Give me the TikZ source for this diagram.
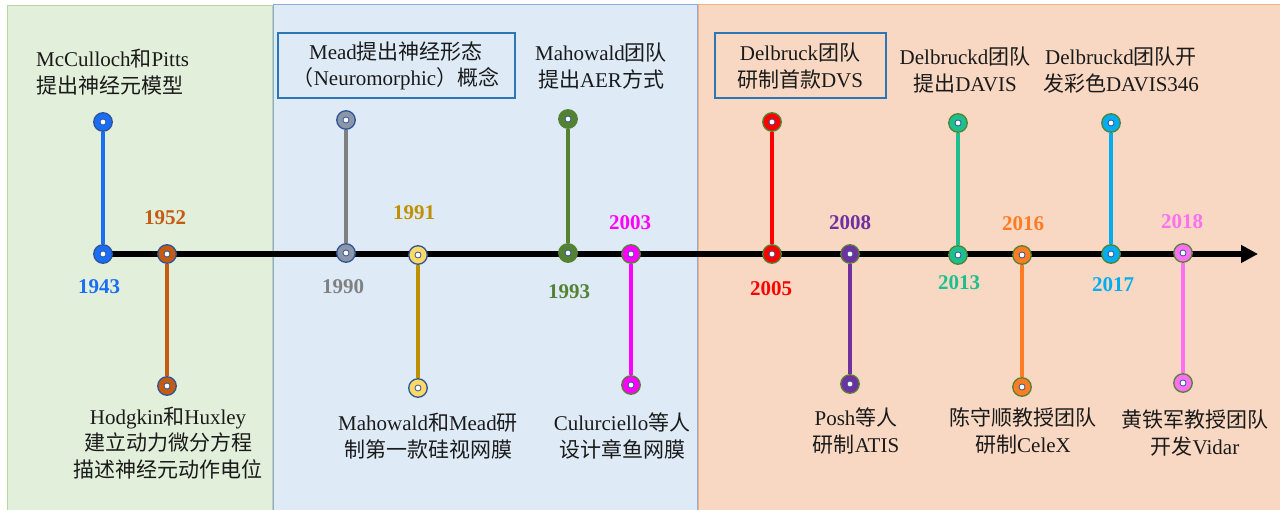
\documentclass[tikz,border=0pt]{standalone}
\usepackage{fontspec}
\setmainfont{Liberation Serif}
\newfontfamily\zhf{Noto Sans CJK SC}
\newcommand\zh[1]{{\zhf #1}}
\usetikzlibrary{arrows.meta}
\definecolor{txtc}{HTML}{1A1A1A}
\definecolor{pgreen}{HTML}{E2EFDA}
\definecolor{pgreenb}{HTML}{B5D6A0}
\definecolor{pblue}{HTML}{DEEBF7}
\definecolor{pblueb}{HTML}{8FAADC}
\definecolor{porange}{HTML}{F8D8C2}
\definecolor{porangeb}{HTML}{F4B183}
\definecolor{boxc}{HTML}{2E75B6}
\definecolor{bordb}{HTML}{2F5597}
\definecolor{bordg}{HTML}{548235}
\definecolor{dotin}{HTML}{2F5597}
\definecolor{c1943}{HTML}{1A6EF5}
\definecolor{c1952}{HTML}{C55A11}
\definecolor{c1990}{HTML}{808080}
\definecolor{d1990}{HTML}{8C96A8}
\definecolor{c1991}{HTML}{BF9000}
\definecolor{d1991}{HTML}{FFD966}
\definecolor{c1993}{HTML}{548235}
\definecolor{c2003}{HTML}{FF00FF}
\definecolor{c2005}{HTML}{FF0000}
\definecolor{c2008}{HTML}{7030A0}
\definecolor{c2013}{HTML}{1DBF8E}
\definecolor{c2016}{HTML}{FF7C24}
\definecolor{c2017}{HTML}{00AEEF}
\definecolor{c2018}{HTML}{FF70F0}
\tikzset{
  dotn/.style 2 args={circle, inner sep=0pt, minimum size=18.5pt, fill=#1, draw=#2, line width=1.3pt,
    path picture={\draw[fill=white,draw=dotin,line width=0.8pt] (path picture bounding box.center) circle[radius=3pt];}},
  yr/.style={font=\bfseries\fontsize{21}{24}\selectfont, text=#1, inner sep=0pt},
  txt/.style={font=\fontsize{21}{26.5}\selectfont, align=center, text=txtc, inner sep=0pt},
  stem/.style={line width=4pt, draw=#1},
  tbox/.style={draw=boxc, line width=2pt}
}
\begin{document}
\begin{tikzpicture}[x=1pt,y=-1pt]
\useasboundingbox (0,0) rectangle (1280,510);
\fill[white] (0,0) rectangle (1280,510);
% panels
\filldraw[fill=pgreen, draw=pgreenb, line width=1pt] (7,6) rectangle (272,512);
\filldraw[fill=pblue, draw=pblueb, line width=1pt] (273,5) rectangle (697,512);
\filldraw[fill=porange, draw=porangeb, line width=1pt] (698,5) rectangle (1282,512);
% axis
\coordinate (axs) at (103,254);
\coordinate (axe) at (1258,254);
\draw[line width=5.5pt, -{Triangle[length=17pt,width=17pt]}] (axs) -- (axe);
% dots
\node[dotn={c1943}{bordb}] (t1943) at (103,122) {};
\node[dotn={c1943}{bordb}] (a1943) at (103,254) {};
\node[dotn={c1952}{bordb}] (a1952) at (167,254) {};
\node[dotn={c1952}{bordb}] (b1952) at (167,386) {};
\node[dotn={d1990}{bordb}] (t1990) at (346,120) {};
\node[dotn={d1990}{bordb}] (a1990) at (346,253) {};
\node[dotn={d1991}{bordb}] (a1991) at (418,255) {};
\node[dotn={d1991}{bordb}] (b1991) at (418,388) {};
\node[dotn={c1993}{bordg}] (t1993) at (568,119) {};
\node[dotn={c1993}{bordg}] (a1993) at (568,253) {};
\node[dotn={c2003}{bordg}] (a2003) at (631,254) {};
\node[dotn={c2003}{bordg}] (b2003) at (631,385) {};
\node[dotn={c2005}{bordg}] (t2005) at (772,122) {};
\node[dotn={c2005}{bordg}] (a2005) at (772,254) {};
\node[dotn={c2008}{bordg}] (a2008) at (850,254) {};
\node[dotn={c2008}{bordg}] (b2008) at (850,384) {};
\node[dotn={c2013}{bordg}] (t2013) at (958,123) {};
\node[dotn={c2013}{bordg}] (a2013) at (958,255) {};
\node[dotn={c2016}{bordg}] (a2016) at (1022,255) {};
\node[dotn={c2016}{bordg}] (b2016) at (1022,387) {};
\node[dotn={c2017}{bordg}] (t2017) at (1111,123) {};
\node[dotn={c2017}{bordg}] (a2017) at (1111,254) {};
\node[dotn={c2018}{bordg}] (a2018) at (1183,253) {};
\node[dotn={c2018}{bordg}] (b2018) at (1183,383) {};
% stems
\draw[stem=c1943] (t1943) -- (a1943);
\draw[stem=c1952] (a1952) -- (b1952);
\draw[stem=c1990] (t1990) -- (a1990);
\draw[stem=c1991] (a1991) -- (b1991);
\draw[stem=c1993] (t1993) -- (a1993);
\draw[stem=c2003] (a2003) -- (b2003);
\draw[stem=c2005] (t2005) -- (a2005);
\draw[stem=c2008] (a2008) -- (b2008);
\draw[stem=c2013] (t2013) -- (a2013);
\draw[stem=c2016] (a2016) -- (b2016);
\draw[stem=c2017] (t2017) -- (a2017);
\draw[stem=c2018] (a2018) -- (b2018);
% years
\node[yr=c1943] (y1943) at (99,287) {1943};
\node[yr=c1952] (y1952) at (165,218) {1952};
\node[yr=c1990] (y1990) at (343,287) {1990};
\node[yr=c1991] (y1991) at (414,213) {1991};
\node[yr=c1993] (y1993) at (569,292) {1993};
\node[yr=c2003] (y2003) at (630,223) {2003};
\node[yr=c2005] (y2005) at (771,289) {2005};
\node[yr=c2008] (y2008) at (850,223) {2008};
\node[yr=c2013] (y2013) at (959,283) {2013};
\node[yr=c2016] (y2016) at (1023,224) {2016};
\node[yr=c2017] (y2017) at (1113,285) {2017};
\node[yr=c2018] (y2018) at (1182,222) {2018};
% texts
\node[txt, align=left, anchor=west] (mccul) at (36,72) {McCulloch\zh{和}Pitts\\\zh{提出神经元模型}};
\node[txt] (hodg) at (168,443) {Hodgkin\zh{和}Huxley\\\zh{建立动力微分方程}\\\zh{描述神经元动作电位}};
\node[txt, tbox, minimum width=237pt, minimum height=65pt] (mead) at (396,66) {Mead\zh{提出神经形态}\\\zh{（}Neuromorphic\zh{）概念}};
\node[txt] (maho) at (601,66) {Mahowald\zh{团队}\\\zh{提出}AER\zh{方式}};
\node[txt] (mahomead) at (428,436) {Mahowald\zh{和}Mead\zh{研}\\\zh{制第一款硅视网膜}};
\node[txt] (culu) at (622,436) {Culurciello\zh{等人}\\\zh{设计章鱼网膜}};
\node[txt, tbox, minimum width=171pt, minimum height=65pt] (delb) at (800,66) {Delbruck\zh{团队}\\\zh{研制首款}DVS};
\node[txt] (davis) at (965,70) {Delbruckd\zh{团队}\\\zh{提出}DAVIS};
\node[txt] (davis346) at (1121,70) {Delbruckd\zh{团队开}\\\zh{发彩色}DAVIS346};
\node[txt] (posh) at (856,431) {Posh\zh{等人}\\\zh{研制}ATIS};
\node[txt] (celex) at (1023,431) {\zh{陈守顺教授团队}\\\zh{研制}CeleX};
\node[txt] (vidar) at (1195,433) {\zh{黄铁军教授团队}\\\zh{开发}Vidar};
\end{tikzpicture}
\end{document}
